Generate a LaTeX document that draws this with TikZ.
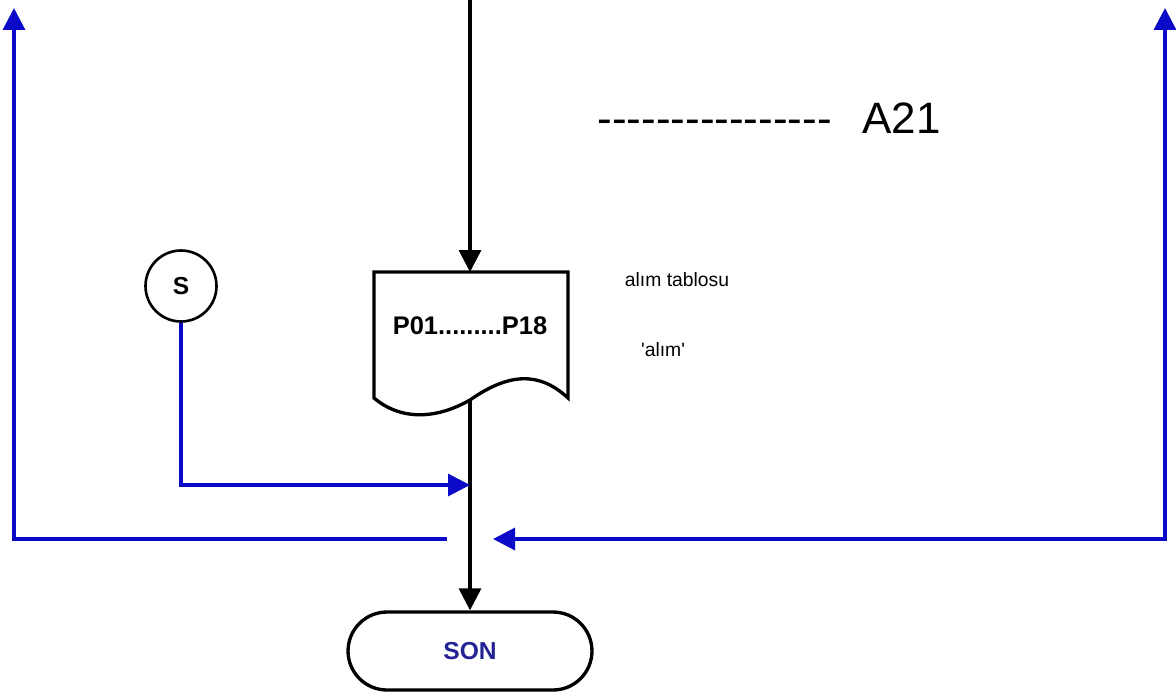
\documentclass[tikz,border=0pt]{standalone}
\usepackage{fontspec}
\setmainfont{Liberation Sans}[Ligatures=TeXOff]
\usepackage{tikz}
\usetikzlibrary{positioning,arrows.meta}
\usepackage{xcolor}
\definecolor{flowblue}{RGB}{10,10,200}
\definecolor{sonblue}{RGB}{35,35,150}

\begin{document}
\begin{tikzpicture}[x=0.02cm,y=-0.02cm,>={Triangle[length=4.4mm,width=4.4mm]},
  blackline/.style={line width=1.9pt,black},
  blueline/.style={line width=1.8pt,flowblue}]
\useasboundingbox (0,0) rectangle (1176,693);
\coordinate (top) at (470,0);
\coordinate (doctop) at (470,272);
\coordinate (docbot) at (470,400);
% document symbol
\draw[line width=1.9pt] (374,272) -- (568,272) -- (568,398)
  .. controls (540,372) and (510,372) .. (docbot)
  .. controls (435,420) and (400,420) .. (374,398) -- cycle;
\node (p) at (470,326) {\fontsize{14.5}{16}\selectfont\bfseries P01.........P18};
\node (son) at (470,651) [draw,line width=1.9pt,rounded corners=0.78cm,minimum width=4.88cm,minimum height=1.56cm] {\fontsize{14}{16}\selectfont\bfseries\color{sonblue}SON};
\node (s) at (181,286) [draw,circle,line width=1.5pt,minimum size=1.42cm,inner sep=0pt] {\fontsize{14}{16}\selectfont\bfseries S};
\node (tab) at (677,280) {\fontsize{11}{13}\selectfont alım tablosu};
\node (alim) at (663,350) {\fontsize{11}{13}\selectfont 'alım'};
\node (dashes) at (832,133) [anchor=base east,inner sep=0pt] {\fontsize{25}{30}\selectfont ----------------};
\node (a21) at (862,133) [anchor=base west,inner sep=0pt] {\fontsize{25}{30}\selectfont A21};
\coordinate (join) at (470,485);
\coordinate (lgap) at (447,539);
\coordinate (ltop) at (14,8);
\coordinate (rgap) at (493,539);
\coordinate (rtop) at (1165,8);
\draw[blackline,->] (top) -- (doctop);
\draw[blackline,->] (docbot) -- (son.north);
\draw[blueline,->] (s.south) |- (join);
\draw[blueline,->] (lgap) -| (ltop);
\draw[blueline,<->] (rtop) |- (rgap);
\end{tikzpicture}
\end{document}
